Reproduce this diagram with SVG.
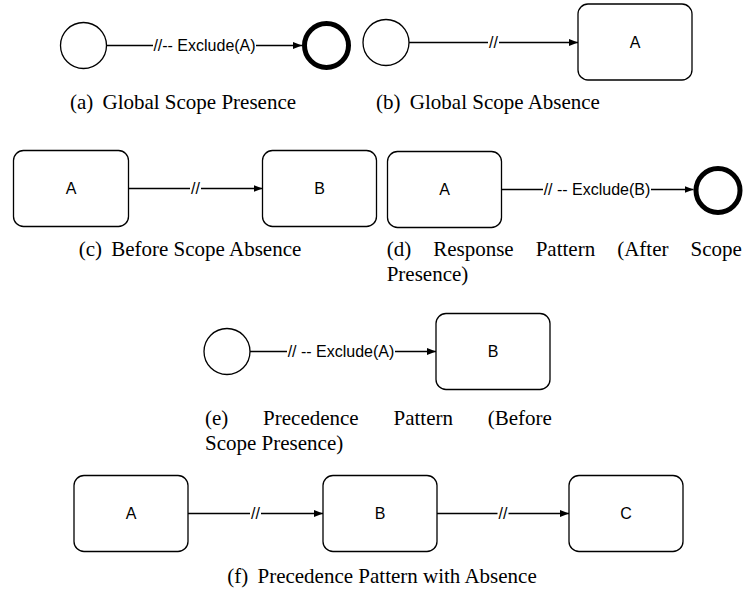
<svg xmlns="http://www.w3.org/2000/svg" width="744" height="593" viewBox="0 0 744 593">
  <style>
    .ev { fill: #fff; stroke: #000; stroke-width: 1.3; }
    .end { fill: #fff; stroke: #000; stroke-width: 5; }
    .task { fill: #fff; stroke: #000; stroke-width: 1.3; }
    .nl { font-family: "Liberation Sans", Arial, sans-serif; font-size: 16px; fill: #000; text-anchor: middle; }
    .edge { stroke: #000; stroke-width: 1.3; fill: none; marker-end: url(#arrow); }
    .lbg { fill: #fff; }
    .el { font-family: "Liberation Sans", Arial, sans-serif; font-size: 16px; fill: #000; text-anchor: middle; }
    .cap { font-family: "Liberation Serif", "Times New Roman", serif; font-size: 21px; fill: #000; }
  </style>
  <defs>
    <marker id="arrow" markerUnits="userSpaceOnUse" markerWidth="10" markerHeight="8" refX="9" refY="3.5" orient="auto">
      <path d="M0,0 L9,3.5 L0,7 z" fill="#000"/>
    </marker>
  </defs>

  <!-- (a) Global scope presence -->
  <g id="a-start"><circle class="ev" cx="83.5" cy="45.5" r="23"/></g>
  <g id="a-end"><circle class="end" cx="326.5" cy="45.5" r="22"/></g>

  <!-- (b) Global scope absence -->
  <g id="b-start"><circle class="ev" cx="386" cy="42.5" r="23"/></g>
  <g id="b-A"><rect class="task" x="578" y="4" width="114" height="76" rx="10"/><text class="nl" x="635" y="48">A</text></g>

  <!-- (c) Before scope absence -->
  <g id="c-A"><rect class="task" x="13.5" y="150.5" width="115" height="76" rx="10"/><text class="nl" x="71" y="194">A</text></g>
  <g id="c-B"><rect class="task" x="262.5" y="150.5" width="114" height="76" rx="10"/><text class="nl" x="319.5" y="194">B</text></g>

  <!-- (d) Response pattern -->
  <g id="d-A"><rect class="task" x="387.5" y="151.5" width="114" height="76" rx="10"/><text class="nl" x="444.5" y="195">A</text></g>
  <g id="d-end"><circle class="end" cx="718" cy="190.5" r="22"/></g>

  <!-- (e) Precedence pattern -->
  <g id="e-start"><circle class="ev" cx="227" cy="351.5" r="23"/></g>
  <g id="e-B"><rect class="task" x="436" y="313.5" width="114" height="76" rx="10"/><text class="nl" x="493" y="357">B</text></g>

  <!-- (f) Precedence pattern with absence -->
  <g id="f-A"><rect class="task" x="74" y="475.5" width="114" height="76" rx="10"/><text class="nl" x="131" y="519">A</text></g>
  <g id="f-B"><rect class="task" x="323" y="475.5" width="114" height="76" rx="10"/><text class="nl" x="380" y="519">B</text></g>
  <g id="f-C"><rect class="task" x="569" y="475.5" width="114" height="76" rx="10"/><text class="nl" x="626" y="519">C</text></g>

  <!-- connectors with their labels -->
  <g id="connectors">
    <path class="edge" d="M106.5,45.5 H302"/>
    <rect class="lbg" x="153" y="37" width="103" height="17"/>
    <text class="el" x="204.5" y="51">//-- Exclude(A)</text>

    <path class="edge" d="M409,42.5 H578"/>
    <rect class="lbg" x="488" y="34" width="11" height="17"/>
    <text class="el" x="493.5" y="48">//</text>

    <path class="edge" d="M128.5,188.5 H262.5"/>
    <rect class="lbg" x="190" y="180" width="11" height="17"/>
    <text class="el" x="195.5" y="194">//</text>

    <path class="edge" d="M501.5,189.5 H693.5"/>
    <rect class="lbg" x="543" y="181" width="108" height="17"/>
    <text class="el" x="597" y="195">// -- Exclude(B)</text>

    <path class="edge" d="M250,351.5 H436"/>
    <rect class="lbg" x="287" y="343" width="108" height="17"/>
    <text class="el" x="341" y="357">// -- Exclude(A)</text>

    <path class="edge" d="M188,513.5 H323"/>
    <rect class="lbg" x="250" y="505" width="11" height="17"/>
    <text class="el" x="255.5" y="519">//</text>

    <path class="edge" d="M437,513.5 H569"/>
    <rect class="lbg" x="497.5" y="505" width="11" height="17"/>
    <text class="el" x="503" y="519">//</text>
  </g>

  <!-- sub-figure captions -->
  <text class="cap" x="183" y="109" text-anchor="middle">(a)<tspan dx="4"> Global Scope Presence</tspan></text>
  <text class="cap" x="488" y="109" text-anchor="middle">(b)<tspan dx="4"> Global Scope Absence</tspan></text>
  <text class="cap" x="190" y="256" text-anchor="middle">(c)<tspan dx="4"> Before Scope Absence</tspan></text>
  <text class="cap" y="256"><tspan x="386.7">(d)</tspan><tspan x="433.2">Response</tspan><tspan x="535.7">Pattern</tspan><tspan x="617.2">(After</tspan><tspan x="690.5">Scope</tspan></text>
  <text class="cap" x="386.7" y="281">Presence)</text>
  <text class="cap" y="425"><tspan x="205">(e)</tspan><tspan x="263.1">Precedence</tspan><tspan x="393.5">Pattern</tspan><tspan x="487.8">(Before</tspan></text>
  <text class="cap" x="205" y="450">Scope Presence)</text>
  <text class="cap" x="382" y="583" text-anchor="middle">(f)<tspan dx="4"> Precedence Pattern with Absence</tspan></text>
</svg>
